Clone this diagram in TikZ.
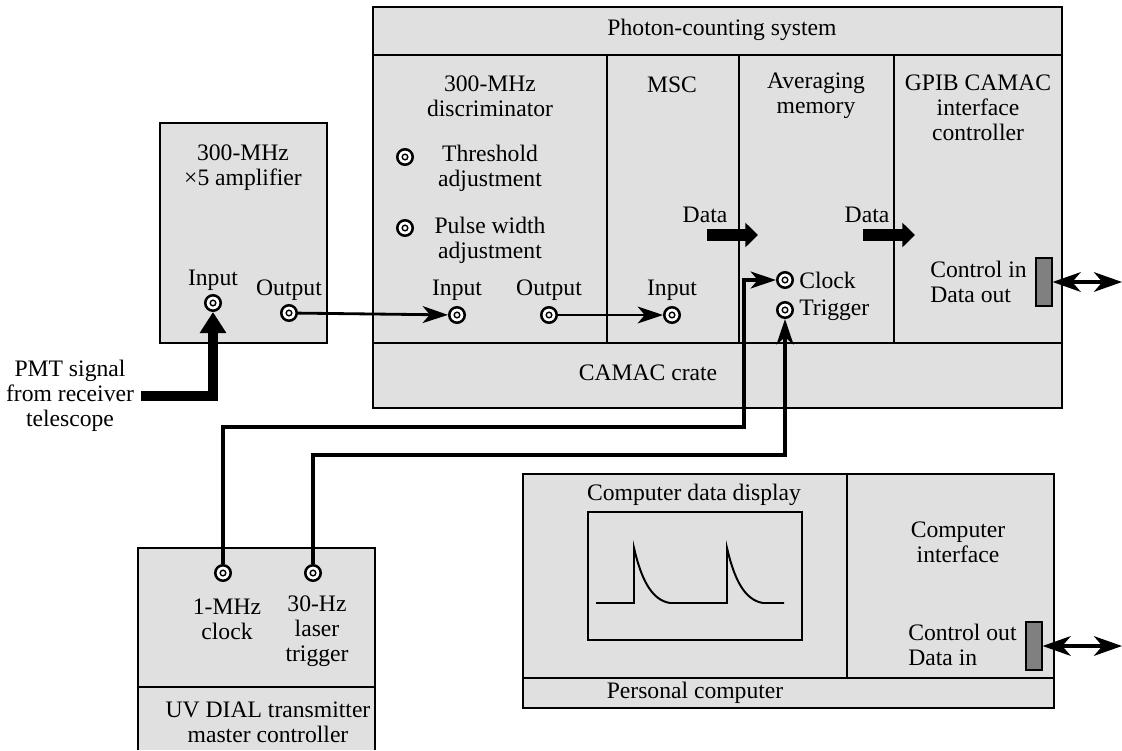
\documentclass[tikz,border=0pt]{standalone}
\usepackage{fontspec}
\setmainfont{Liberation Serif}
\usetikzlibrary{arrows.meta,patterns}

\begin{document}
\begin{tikzpicture}[x=0.025cm,y=-0.025cm,font=\fontsize{16.8}{17.8}\selectfont]
              \tikzstyle{box} = [draw, line width=1.6pt, fill=black!12];
              \tikzstyle{divider} = [line width=1.6pt];
              \tikzstyle{lbl} = [align=center, inner sep=0pt];
              \tikzstyle{knob} = [circle, draw, line width=1.8pt, fill=white, minimum size=11pt, inner sep=0pt,
                path picture={\draw[line width=1pt] (path picture bounding box.center) circle (2pt);}];
              \tikzstyle{port} = [draw, line width=1.2pt, fill=black!50, minimum width=11pt, minimum height=34pt, inner sep=0pt];
              \tikzstyle{sig} = [line width=2pt, -{Stealth[length=18pt,width=12pt,inset=5pt]}];
              \tikzstyle{wire} = [line width=2.6pt, -{Stealth[length=18pt,width=12pt,inset=5pt]}];
              \tikzstyle{biarrow} = [line width=2.2pt, {Stealth[length=20pt,width=14pt,inset=6pt]}-{Stealth[length=20pt,width=14pt,inset=6pt]}];
              \tikzstyle{dataarrow} = [line width=9pt, -{Triangle[length=9pt,width=17pt]}];
              \tikzstyle{fatarrow} = [line width=7pt, -{Triangle[length=15pt,width=18pt]}];
              \useasboundingbox (0,0) rectangle (1122,750);

              % boxes
              \draw[box] (160,123) rectangle (327,343);
              \draw[box] (373,7) rectangle (1062,408);
              \draw[divider] (373,55) -- (1062,55) (373,343) -- (1062,343);
              \foreach \x in {607,739,894}{
                \draw[divider] (\x,55) -- (\x,343);
              }
              \draw[box] (523,474) rectangle (1054,708);
              \draw[divider] (523,678) -- (1054,678) (847,474) -- (847,678);
              \draw[box, line width=1.3pt] (588,512) rectangle (802,640);
              \fill[black!12] (138,548) rectangle (375,750);
              \draw[divider] (138,750) -- (138,548) -- (375,548) -- (375,750) (138,687) -- (375,687);

              % texts
              \node[lbl] (phot) at (722,30) {Photon-counting system};
              \node[lbl] (crate) at (648,373) {CAMAC crate};
              \node[lbl] (amp) at (243,168) {300-MHz\\×5 amplifier};
              \node[lbl] (disc) at (490,96) {300-MHz\\discriminator};
              \node[lbl] (msc) at (672,85) {MSC};
              \node[lbl] (avg) at (816,96) {Averaging\\memory};
              \node[lbl] (gpib) at (978,108) {GPIB CAMAC\\interface\\controller};
              \node[lbl] (thrtxt) at (490,168) {Threshold\\adjustment};
              \node[lbl] (pwtxt) at (490,240) {Pulse width\\adjustment};
              \node[lbl] (ampintxt) at (213,280) {Input};
              \node[lbl] (ampouttxt) at (289,290) {Output};
              \node[lbl] (discintxt) at (457,290) {Input};
              \node[lbl] (discouttxt) at (549,290) {Output};
              \node[lbl] (mscintxt) at (672,290) {Input};
              \node[lbl] (data1) at (705,215) {Data};
              \node[lbl] (data2) at (867,215) {Data};
              \node[lbl, anchor=west] (clktxt) at (799,280) {Clock};
              \node[lbl, anchor=west] (trgtxt) at (799,310) {Trigger};
              \node[lbl, align=left, anchor=west] (gpibio) at (930,282) {Control in\\Data out};
              \node[lbl] (pmt) at (70,396) {PMT signal\\from receiver\\telescope};
              \node[lbl] (mhztxt) at (227,619) {1-MHz\\clock};
              \node[lbl] (hztxt) at (317,631) {30-Hz\\laser\\trigger};
              \node[lbl] (uv) at (268,722) {UV DIAL transmitter\\master controller};
              \node[lbl] (disp) at (694,495) {Computer data display};
              \node[lbl] (pcif) at (958,542) {Computer\\interface};
              \node[lbl, align=left, anchor=west] (pcio) at (908,645) {Control out\\Data in};
              \node[lbl] (pc) at (695,693) {Personal computer};

              % knobs and ports
              \node[knob] (ampin) at (213,303) {};
              \node[knob] (ampout) at (289,313) {};
              \node[knob] (discin) at (457,315) {};
              \node[knob] (discout) at (549,315) {};
              \node[knob] (mscin) at (672,315) {};
              \node[knob] (thr) at (405,157) {};
              \node[knob] (pw) at (405,228) {};
              \node[knob] (clk) at (785,280) {};
              \node[knob] (trg) at (785,310) {};
              \node[knob] (mhz) at (223,573) {};
              \node[knob] (hz) at (313,573) {};
              \node[port] (gport) at (1044,282) {};
              \node[port] (pport) at (1034,646) {};

              % connectors
              \coordinate (gend) at (1122,282);
              \coordinate (pend) at (1122,646);
              \coordinate (clkbend) at (744,427);
              \coordinate (trgbend) at (785,455);
              \coordinate (d1a) at (707,235);
              \coordinate (d1b) at (758,235);
              \coordinate (d2a) at (863,235);
              \coordinate (d2b) at (915,235);
              \draw[sig] (ampout) -- (discin);
              \draw[sig] (discout) -- (mscin);
              \draw[biarrow] (gport.east) -- (gend);
              \draw[biarrow] (pport.east) -- (pend);
              \draw[dataarrow] (d1a) -- (d1b);
              \draw[dataarrow] (d2a) -- (d2b);
              \draw[fatarrow] ([xshift=5pt]pmt.east) -| (ampin.south);
              \draw[wire] (mhz.north) |- (clkbend) |- (clk.west);
              \draw[wire] (hz.north) |- (trgbend) -- (trg.south);

              % display trace
              \draw[line width=1.4pt] (596,603) -- (634,603) -- (634,548)
                .. controls (641,578) and (651,600) .. (670,603) -- (727,603) -- (727,548)
                .. controls (734,578) and (744,600) .. (763,603) -- (784,603);
            \end{tikzpicture}
\end{document}
